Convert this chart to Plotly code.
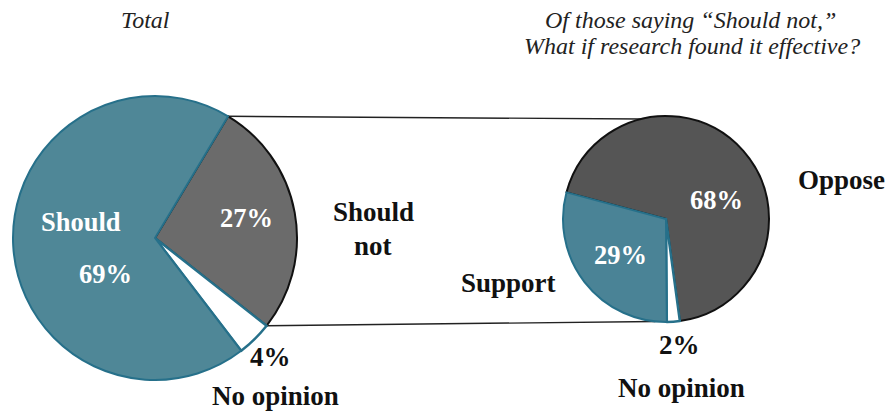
import math
import plotly.graph_objects as go

# Survey shares (percent)
total_labels = ["Should not", "No opinion", "Should"]
total_values = [27, 4, 69]

followup_labels = ["Oppose", "No opinion", "Support"]
followup_values = [68, 2, 29]

W, H = 888, 412
SERIF = "'Liberation Serif', 'DejaVu Serif', serif"

TEAL = "#26708a"

# Pie placement in pixels: centre and radius
L_CX, L_CY, L_R = 155, 238, 142
R_CX, R_CY, R_R = 666, 219, 103
L_ROT = 31     # clockwise from 12 o'clock where the first slice starts
R_ROT = -75


def px_x(x):
    return x / W


def px_y(y):
    return 1 - y / H


def domain(cx, cy, r):
    return dict(x=[px_x(cx - r), px_x(cx + r)], y=[px_y(cy + r), px_y(cy - r)])


def point_on(cx, cy, r, deg):
    a = math.radians(deg)
    return cx + r * math.sin(a), cy - r * math.cos(a)


fig = go.Figure()

fig.add_trace(go.Pie(
    labels=total_labels, values=total_values, sort=False,
    direction="clockwise", rotation=L_ROT,
    domain=domain(L_CX, L_CY, L_R),
    marker=dict(colors=["#6b6b6b", "#ffffff", "#4f8797"],
                line=dict(color=["#111111", TEAL, TEAL], width=[2, 2.5, 2])),
    textinfo="none", hoverinfo="label+percent", showlegend=False,
))

fig.add_trace(go.Pie(
    labels=followup_labels, values=followup_values, sort=False,
    direction="clockwise", rotation=R_ROT,
    domain=domain(R_CX, R_CY, R_R),
    marker=dict(colors=["#555555", "#ffffff", "#4a8396"],
                line=dict(color=["#111111", TEAL, TEAL], width=[2, 2.5, 2])),
    textinfo="none", hoverinfo="label+percent", showlegend=False,
))

# Connector lines from the "Should not" slice to the follow-up pie
total_sum = sum(total_values)
start_deg = L_ROT
end_deg = L_ROT + 360 * total_values[0] / total_sum
top_l = point_on(L_CX, L_CY, L_R, start_deg)
bot_l = point_on(L_CX, L_CY, L_R, end_deg)
top_r = point_on(R_CX, R_CY, R_R, -14)
bot_r = point_on(R_CX, R_CY, R_R, 186)

for (x0, y0), (x1, y1) in [(top_l, top_r), (bot_l, bot_r)]:
    fig.add_shape(type="line", xref="paper", yref="paper",
                  x0=px_x(x0), y0=px_y(y0), x1=px_x(x1), y1=px_y(y1),
                  line=dict(color="#222222", width=1.4), layer="below")


def note(text, x, y, color="#111111", size=27, bold=True, italic=False):
    if bold:
        text = f"<b>{text}</b>"
    if italic:
        text = f"<i>{text}</i>"
    fig.add_annotation(text=text, x=px_x(x), y=px_y(y), xref="paper", yref="paper",
                       showarrow=False, xanchor="center", yanchor="middle",
                       font=dict(family=SERIF, size=size, color=color))


def pct(v):
    return f"{v}%"


WHITE_SIZE = 26.5

# Titles
note("Total", 145, 20, color="#222222", size=24, bold=False, italic=True)
note("Of those saying \u201cShould not,\u201d", 690, 20, color="#222222", size=24, bold=False, italic=True)
note("What if research found it effective?", 692, 46, color="#222222", size=24, bold=False, italic=True)

# Left pie labels
note(total_labels[2], 81, 222, color="white", size=WHITE_SIZE)
note(pct(total_values[2]), 105, 274, color="white", size=WHITE_SIZE)
note(pct(total_values[0]), 246, 218, color="white", size=WHITE_SIZE)
note("Should", 373, 212)
note("not", 373, 246)
note(pct(total_values[1]), 270, 357)
note(total_labels[1], 275, 396)

# Right pie labels
note(pct(followup_values[0]), 716, 200, color="white", size=WHITE_SIZE)
note(pct(followup_values[2]), 620, 255, color="white", size=WHITE_SIZE)
note(followup_labels[0], 841, 180)
note(followup_labels[2], 508, 283)
note(pct(followup_values[1]), 679, 345)
note(followup_labels[1], 681, 388)

fig.update_layout(
    width=W, height=H,
    margin=dict(l=0, r=0, t=0, b=0),
    paper_bgcolor="white", plot_bgcolor="white",
    font=dict(family=SERIF),
)

fig.write_html("out.html")
